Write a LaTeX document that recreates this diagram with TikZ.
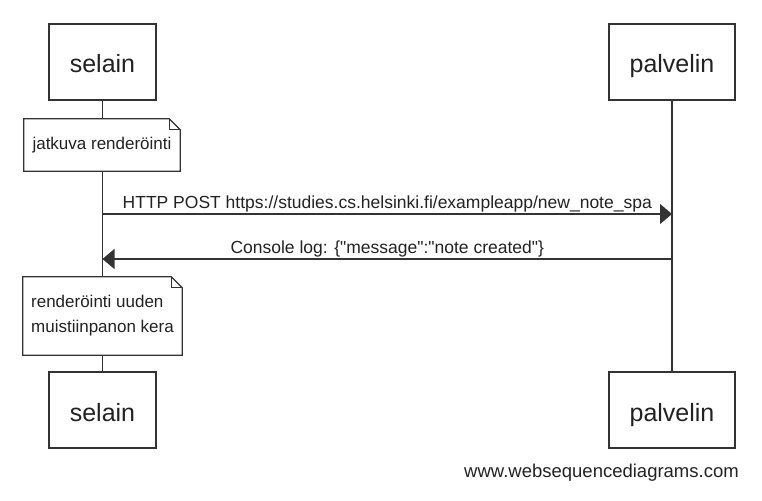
\documentclass[tikz,border=0pt]{standalone}
\usepackage{fontspec}
\setmainfont{Liberation Sans}
\usetikzlibrary{arrows.meta}
\definecolor{seqline}{HTML}{333333}
\definecolor{seqtext}{HTML}{222222}

\begin{document}
\begin{tikzpicture}
[every node/.style={inner sep=0pt, text=seqtext},
 actor/.style={rectangle, draw=seqline, line width=1.25pt, minimum height=76pt, font=\fontsize{25}{30}\selectfont, text height=22pt, text depth=0pt},
 note/.style={rectangle, fill=white, inner xsep=7pt, align=left, font=\fontsize{17}{25}\selectfont},
 noteline/.style={line width=1.25pt, color=seqline, line join=miter},
 lifeline/.style={line width=1.5pt, color=seqline},
 msg/.style={line width=1.25pt, color=seqline, -{Triangle[length=12pt, width=20pt]}},
 msglabel/.style={midway, anchor=base, yshift=6pt, font=\fontsize{17.5}{20}\selectfont}]
\useasboundingbox (0pt, 0pt) rectangle (762pt, -500pt);
\node (selain1) [actor, minimum width=107pt] at (102.5pt, -62pt) {selain};
\node (palvelin1) [actor, minimum width=126pt] at (672pt, -62pt) {palvelin};
\node (selain2) [actor, minimum width=107pt] at (102.5pt, -410pt) {selain};
\node (palvelin2) [actor, minimum width=126pt] at (672pt, -410pt) {palvelin};
\draw [lifeline] (selain1) to (selain2);
\draw [lifeline] (palvelin1) to (palvelin2);
% notes on the browser lifeline
\node (note1) [note, minimum width=156pt, minimum height=52pt] at (102pt, -145pt) {jatkuva renderöinti};
\node (note2) [note, minimum width=159pt, minimum height=78pt] at (102.5pt, -316pt) {renderöinti uuden\\muistiinpanon kera};
\draw [noteline] (note1.north west) -- ([xshift=-11pt]note1.north east) -- ([yshift=-11pt]note1.north east) -- (note1.south east) -- (note1.south west) -- cycle;
\draw [noteline] ([xshift=-11pt]note1.north east) |- ([yshift=-11pt]note1.north east);
\draw [noteline] (note2.north west) -- ([xshift=-11pt]note2.north east) -- ([yshift=-11pt]note2.north east) -- (note2.south east) -- (note2.south west) -- cycle;
\draw [noteline] ([xshift=-11pt]note2.north east) |- ([yshift=-11pt]note2.north east);
% messages
\coordinate (s1) at (102.5pt, -214pt);
\coordinate (p1) at (672pt, -214pt);
\coordinate (s2) at (102.5pt, -259pt);
\coordinate (p2) at (672pt, -259pt);
\draw [msg] (s1) to node [msglabel] {HTTP POST https://studies.cs.helsinki.fi/exampleapp/new\_note\_spa} (p1);
\draw [msg] (p2) to node [msglabel] {Console log: \{\textquotedbl message\textquotedbl:\textquotedbl note created\textquotedbl\}} (s2);
\node (credit) [font=\fontsize{18.5}{22}\selectfont] at (601.5pt, -473pt) {www.websequencediagrams.com};
\end{tikzpicture}
\end{document}
